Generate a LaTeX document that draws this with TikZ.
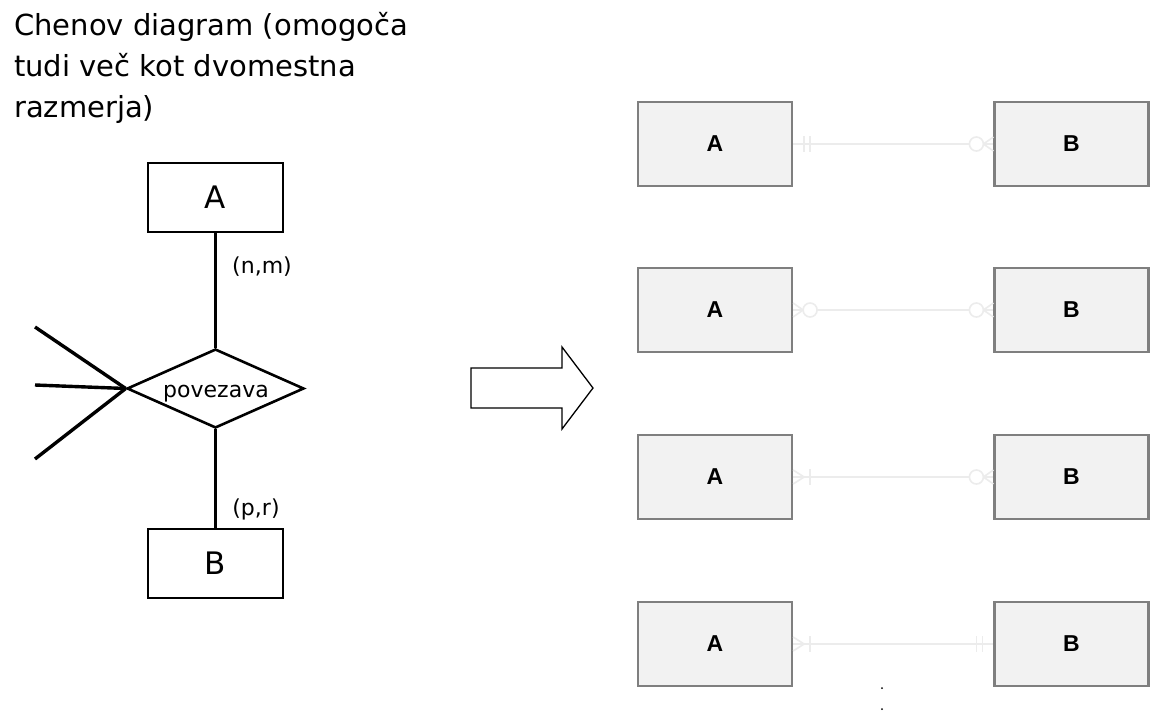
\documentclass[tikz,border=0pt]{standalone}
\usepackage{fontspec}
\setmainfont{DejaVu Sans}
\newfontfamily\arialfont{Liberation Sans}
\usetikzlibrary{shapes.geometric}
\definecolor{boxfill}{HTML}{F2F2F2}
\definecolor{boxline}{HTML}{7F7F7F}
\definecolor{relline}{HTML}{ECECEC}
\tikzset{
  titletext/.style={anchor=base west, inner sep=0pt, font=\fontsize{29}{41}\selectfont},
  chenent/.style={draw=black, line width=2.6pt, minimum width=135pt, minimum height=69pt, inner sep=0pt, font=\fontsize{31}{33}\selectfont},
  chenrel/.style={draw=black, line width=2.6pt, shape=diamond, aspect=2.24, minimum width=177pt, minimum height=79pt, inner sep=0pt},
  reltext/.style={anchor=base, inner sep=0pt, font=\fontsize{22}{24}\selectfont},
  chenline/.style={draw=black, line width=2.6pt},
  fanline/.style={draw=black, line width=3.4pt},
  cardlabel/.style={inner sep=0pt, font=\fontsize{22}{24}\selectfont},
  crowent/.style={draw=boxline, fill=boxfill, line width=2.2pt, minimum width=154pt, minimum height=84pt, inner sep=0pt, font=\arialfont\bfseries\fontsize{23}{25}\selectfont},
  rel/.style={draw=relline, line width=1.6pt},
  bigarrow/.style={draw=black, line width=1.3pt, fill=white},
  pics/mandone/.style={code={
    \draw[rel] (11,-8) -- (11,8);
    \draw[rel] (17,-8) -- (17,8);}},
  pics/zeromany/.style={code={
    \draw[rel] (0,-7) -- (10,0) -- (0,7);
    \draw[rel, fill=white] (17,0) circle (7);}},
  pics/onemany/.style={code={
    \draw[rel] (0,-7) -- (11,0) -- (0,7);
    \draw[rel] (17,-8) -- (17,8);}},
}
\begin{document}
\begin{tikzpicture}[x=1pt,y=-1pt]
\useasboundingbox (0,0) rectangle (1163,713);
\fill[white] (0,0) rectangle (1163,713);

% title
\node[titletext] (t1) at (14,35) {Chenov diagram (omogoča};
\node[titletext] (t2) at (14,76) {tudi več kot dvomestna};
\node[titletext] (t3) at (14,117) {razmerja)};

% Chen diagram
\node[chenent] (A) at (215.5,197.5) {A};
\node[chenent] (B) at (215.5,563.5) {B};
\node[chenrel] (R) at (215.5,388.5) {};
\node[reltext] (Rt) at (216,397) {povezava};
\draw[chenline] (A.south) -- (R.north);
\draw[chenline] (R.south) -- (B.north);
\coordinate (f1) at (35,327);
\coordinate (f2) at (35,385);
\coordinate (f3) at (35,459);
\draw[fanline] (R.west) -- (f1);
\draw[fanline] (R.west) -- (f2);
\draw[fanline] (R.west) -- (f3);
\node[cardlabel] (nm) at (262,267) {(n,m)};
\node[cardlabel] (pr) at (256,509) {(p,r)};

% transformation arrow
\draw[bigarrow] (471,368) -- (562,368) -- (562,347) -- (593,388) -- (562,429) -- (562,408) -- (471,408) -- cycle;

% crow's foot diagrams
\node[crowent] (A1) at (715,144) {A};
\node[crowent] (B1) at (1071.5,144) {B};
\node[crowent] (A2) at (715,310) {A};
\node[crowent] (B2) at (1071.5,310) {B};
\node[crowent] (A3) at (715,477) {A};
\node[crowent] (B3) at (1071.5,477) {B};
\node[crowent] (A4) at (715,644) {A};
\node[crowent] (B4) at (1071.5,644) {B};

\draw[rel] (A1.east) -- (B1.west);
\pic at (A1.east) {mandone};
\pic[xscale=-1] at (B1.west) {zeromany};

\draw[rel] (A2.east) -- (B2.west);
\pic at (A2.east) {zeromany};
\pic[xscale=-1] at (B2.west) {zeromany};

\draw[rel] (A3.east) -- (B3.west);
\pic at (A3.east) {onemany};
\pic[xscale=-1] at (B3.west) {zeromany};

\draw[rel] (A4.east) -- (B4.west);
\pic at (A4.east) {onemany};
\pic[xscale=-1] at (B4.west) {mandone};

% continuation dots
\fill[black] (882,688) circle (1);
\fill[black] (882,709) circle (1);
\end{tikzpicture}
\end{document}
